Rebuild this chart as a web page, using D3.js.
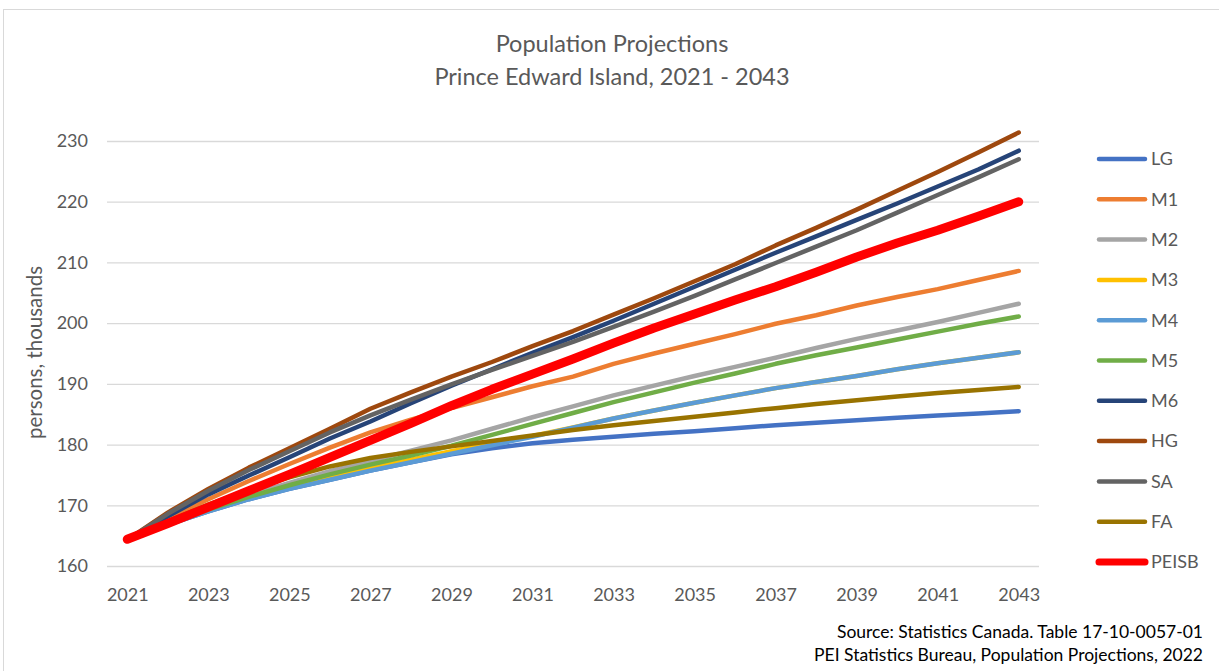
<!DOCTYPE html>
<html>
<head>
<meta charset="utf-8">
<script src="https://cdn.jsdelivr.net/npm/d3@7"></script>
<style>
  html, body { margin: 0; padding: 0; background: #fff; }
  svg text { font-family: Lato, "Open Sans", "Noto Sans", sans-serif; }
</style>
</head>
<body>
<svg id="chart" width="1219" height="671"></svg>
<script>
// Projection years
const years = d3.range(2021, 2044);
const yearLabels = [2021, 2023, 2025, 2027, 2029, 2031, 2033, 2035, 2037, 2039, 2041, 2043];
const yTicks = [160, 170, 180, 190, 200, 210, 220, 230];

// Population by scenario, thousands of persons
const LG    = [164.3,166.8,169.0,171.0,172.7,174.2,175.7,177.1,178.4,179.4,180.2,180.8,181.3,181.8,182.2,182.7,183.2,183.6,184.0,184.4,184.8,185.1,185.5];
const M1    = [164.3,167.8,171.0,174.0,176.8,179.5,182.0,184.1,186.0,187.8,189.6,191.2,193.3,195.0,196.6,198.2,199.9,201.3,202.9,204.3,205.6,207.1,208.6];
const M2    = [164.3,167.0,169.5,171.7,173.7,175.6,177.3,179.0,180.7,182.6,184.5,186.3,188.1,189.7,191.3,192.8,194.3,195.9,197.4,198.8,200.2,201.7,203.2];
const M3    = [164.3,166.9,169.1,171.2,173.0,174.6,176.1,177.5,178.9,180.2,181.4,182.8,184.3,185.6,186.9,188.1,189.3,190.3,191.3,192.4,193.4,194.3,195.2];
const M4    = [164.3,166.8,169.0,171.0,172.7,174.2,175.7,177.1,178.5,179.9,181.3,182.8,184.3,185.6,186.9,188.1,189.3,190.3,191.3,192.4,193.4,194.3,195.2];
const M5    = [164.3,166.9,169.3,171.4,173.3,175.1,176.7,178.2,179.8,181.6,183.4,185.2,187.0,188.6,190.2,191.7,193.3,194.7,196.0,197.3,198.6,199.9,201.1];
const M6    = [164.3,168.2,171.8,174.9,177.9,181.0,183.8,186.8,189.7,192.4,195.1,197.7,200.4,203.2,206.0,208.8,211.6,214.3,217.0,219.7,222.5,225.3,228.4];
const HG    = [164.3,168.8,172.7,176.2,179.4,182.6,185.9,188.6,191.2,193.6,196.2,198.7,201.4,204.1,206.9,209.7,212.8,215.7,218.7,221.8,224.9,228.1,231.4];
const SA    = [164.3,168.6,172.4,175.8,178.9,182.0,184.8,187.4,189.9,192.3,194.6,196.9,199.4,201.9,204.5,207.2,209.9,212.6,215.3,218.2,221.1,224.0,227.0];
const FA    = [164.3,167.3,170.1,172.5,174.6,176.4,177.8,178.8,179.7,180.6,181.5,182.4,183.2,183.9,184.6,185.3,186.0,186.7,187.3,187.9,188.5,189.0,189.5];
const PEISB = [164.4,167.0,169.7,172.4,175.1,177.9,180.7,183.5,186.4,189.1,191.6,194.1,196.7,199.2,201.5,203.8,206.0,208.4,210.9,213.2,215.3,217.6,220.0];

const seriesNames = ["LG","M1","M2","M3","M4","M5","M6","HG","SA","FA","PEISB"];
const seriesValues = [LG, M1, M2, M3, M4, M5, M6, HG, SA, FA, PEISB];
const seriesColors = ["#4472C4","#ED7D31","#A5A5A5","#FFC000","#5B9BD5","#70AD47","#264478","#9E480E","#636363","#997300","#FF0000"];

const svg = d3.select("#chart");

// outer frame
svg.append("rect")
  .attr("x", 3.5).attr("y", 9.5)
  .attr("width", 1230).attr("height", 700)
  .attr("fill", "none").attr("stroke", "#d9d9d9").attr("stroke-width", 1);

const plot = { left: 107, right: 1039, top: 141, bottom: 566 };

const x = d3.scalePoint()
  .domain(years)
  .range([plot.left, plot.right])
  .padding(0.5);

const y = d3.scaleLinear()
  .domain([160, 230])
  .range([plot.bottom, plot.top]);

// horizontal gridlines
const yAxis = d3.axisLeft(y)
  .tickValues(yTicks)
  .tickSize(-(plot.right - plot.left))
  .tickPadding(19)
  .tickFormat(d3.format("d"));

const gy = svg.append("g")
  .attr("transform", `translate(${plot.left},0)`)
  .call(yAxis);
gy.select(".domain").remove();
gy.selectAll(".tick line").attr("stroke", "#d9d9d9").attr("stroke-width", 1.3);
gy.selectAll(".tick text")
  .attr("fill", "#595959")
  .style("font-size", "18px");

// category axis labels
const xAxis = d3.axisBottom(x)
  .tickValues(yearLabels)
  .tickSize(0)
  .tickPadding(22);
const gx = svg.append("g")
  .attr("transform", `translate(0,${plot.bottom})`)
  .call(xAxis);
gx.select(".domain").remove();
gx.selectAll(".tick text")
  .attr("fill", "#595959")
  .style("font-size", "18px");

// series lines
const line = d3.line()
  .x((d, i) => x(years[i]))
  .y(d => y(d));

svg.append("g")
  .selectAll("path")
  .data(seriesValues)
  .join("path")
  .attr("d", d => line(d))
  .attr("fill", "none")
  .attr("stroke", (d, i) => seriesColors[i])
  .attr("stroke-width", (d, i) => seriesNames[i] === "PEISB" ? 9 : 4.5)
  .attr("stroke-linecap", "round")
  .attr("stroke-linejoin", "round");

// legend
const legendY = d3.scalePoint()
  .domain(seriesNames)
  .range([159, 562]);

const lg = svg.append("g").selectAll("g")
  .data(seriesNames)
  .join("g")
  .attr("transform", d => `translate(0,${legendY(d)})`);
lg.append("line")
  .attr("x1", 1099).attr("x2", 1145)
  .attr("stroke", (d, i) => seriesColors[i])
  .attr("stroke-width", d => d === "PEISB" ? 7 : 4.5)
  .attr("stroke-linecap", "round");
lg.append("text")
  .attr("x", 1151).attr("y", 0)
  .attr("dy", "0.35em")
  .attr("fill", "#595959")
  .style("font-size", "18px")
  .text(d => d);

// titles
svg.append("text")
  .attr("x", 612).attr("y", 52)
  .attr("text-anchor", "middle")
  .attr("fill", "#595959")
  .style("font-size", "23.5px")
  .text("Population Projections");
svg.append("text")
  .attr("x", 612).attr("y", 85)
  .attr("text-anchor", "middle")
  .attr("fill", "#595959")
  .style("font-size", "23.5px")
  .text("Prince Edward Island, 2021 - 2043");

// value axis title
svg.append("text")
  .attr("transform", `translate(42,${(plot.top + plot.bottom) / 2 - 1}) rotate(-90)`)
  .attr("text-anchor", "middle")
  .attr("fill", "#595959")
  .style("font-size", "20.5px")
  .text("persons, thousands");

// source note
svg.append("text")
  .attr("x", 1203).attr("y", 638)
  .attr("text-anchor", "end")
  .attr("fill", "#000")
  .style("font-size", "17.5px")
  .text("Source: Statistics Canada. Table 17-10-0057-01");
svg.append("text")
  .attr("x", 1203).attr("y", 661)
  .attr("text-anchor", "end")
  .attr("fill", "#000")
  .style("font-size", "17.5px")
  .text("PEI Statistics Bureau, Population Projections, 2022");
</script>
</body>
</html>
